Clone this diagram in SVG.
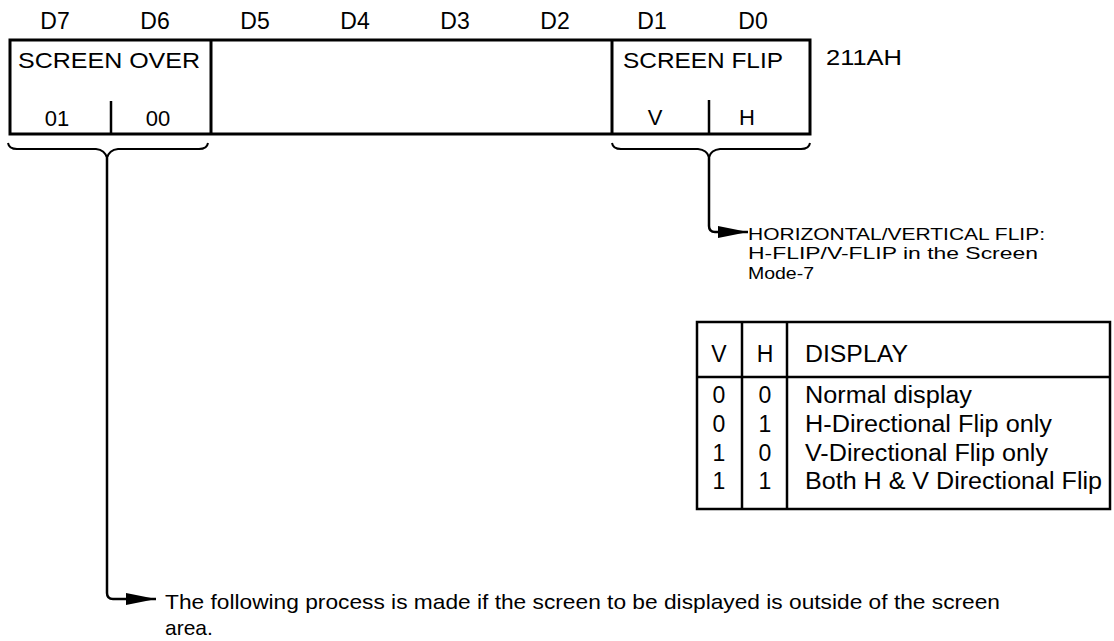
<svg xmlns="http://www.w3.org/2000/svg" width="1114" height="641" viewBox="0 0 1114 641">
<style>
  text { font-family: "Liberation Sans", Arial, sans-serif; fill: #000; }
  .bit { font-size: 23px; text-anchor: middle; }
  .lbl { font-size: 22px; }
  .mid { text-anchor: middle; }
  .ann { font-size: 17px; }
  .note { font-size: 21px; }
  .tbl { font-size: 23px; }
  .box { fill: #fff; stroke: #000; stroke-width: 3; }
  .div { stroke: #000; stroke-width: 3; fill: none; }
  .thin { stroke: #000; stroke-width: 2.5; fill: none; }
  .brace { stroke: #000; stroke-width: 2; fill: none; }
  .conn { stroke: #000; stroke-width: 2.5; fill: none; }
</style>
<defs>
  <marker id="arr" markerUnits="userSpaceOnUse" markerWidth="32" markerHeight="14" refX="30" refY="6" orient="auto">
    <path d="M0,0 L30,6 L0,12 Z" fill="#000"/>
  </marker>
</defs>

<g id="bit-labels">
  <text class="bit" x="55" y="29">D7</text>
  <text class="bit" x="155" y="29">D6</text>
  <text class="bit" x="255" y="29">D5</text>
  <text class="bit" x="355" y="29">D4</text>
  <text class="bit" x="455" y="29">D3</text>
  <text class="bit" x="555" y="29">D2</text>
  <text class="bit" x="652" y="29">D1</text>
  <text class="bit" x="753" y="29">D0</text>
</g>

<g id="register">
  <rect class="box" x="10" y="40" width="800" height="94"/>
  <line class="div" x1="211" y1="40" x2="211" y2="134"/>
  <line class="div" x1="612" y1="40" x2="612" y2="134"/>
</g>

<g id="screen-over">
  <text class="lbl" x="18" y="68" textLength="182" lengthAdjust="spacingAndGlyphs">SCREEN OVER</text>
  <line class="thin" x1="111" y1="101" x2="111" y2="134"/>
  <text class="lbl mid" x="57" y="126">01</text>
  <text class="lbl mid" x="158" y="126">00</text>
</g>

<g id="screen-flip">
  <text class="lbl" x="623" y="68" textLength="160" lengthAdjust="spacingAndGlyphs">SCREEN FLIP</text>
  <line class="thin" x1="709" y1="100" x2="709" y2="134"/>
  <text class="lbl mid" x="655" y="125">V</text>
  <text class="lbl mid" x="747" y="125">H</text>
</g>

<g id="address">
  <text class="lbl" x="826" y="65" textLength="76" lengthAdjust="spacingAndGlyphs">211AH</text>
</g>

<g id="braces">
  <path class="brace" d="M8,143 Q9,149 17,149 L96,149 Q105,150 107,158 Q109,150 118,149 L199,149 Q207,149 208,143"/>
  <path class="brace" d="M612,143 Q613,149 621,149 L698,149 Q707,150 709,157 Q711,150 720,149 L801,149 Q809,149 810,143"/>
</g>

<g id="connectors">
  <path class="conn" d="M709,156 L709,226 Q709,232 715,232 L748,232" marker-end="url(#arr)"/>
  <path class="conn" d="M107,158 L107,593 Q107,599 113,599 L156,599" marker-end="url(#arr)"/>
</g>

<g id="flip-note">
  <text class="ann" x="748" y="239.5" textLength="297" lengthAdjust="spacingAndGlyphs">HORIZONTAL/VERTICAL FLIP:</text>
  <text class="ann" x="748" y="259" textLength="290" lengthAdjust="spacingAndGlyphs">H-FLIP/V-FLIP in the Screen</text>
  <text class="ann" x="748" y="278.5" textLength="66" lengthAdjust="spacingAndGlyphs">Mode-7</text>
</g>

<g id="flip-table">
  <rect class="thin" x="697" y="322" width="413" height="187"/>
  <line class="thin" x1="697" y1="377" x2="1110" y2="377"/>
  <line class="thin" x1="742" y1="322" x2="742" y2="509"/>
  <line class="thin" x1="787" y1="322" x2="787" y2="509"/>
  <text class="tbl mid" x="719" y="362">V</text>
  <text class="tbl mid" x="765" y="362">H</text>
  <text class="tbl" x="805" y="362" textLength="103" lengthAdjust="spacingAndGlyphs">DISPLAY</text>
  <text class="tbl mid" x="719" y="403">0</text>
  <text class="tbl mid" x="765" y="403">0</text>
  <text class="tbl" x="805" y="403" textLength="167" lengthAdjust="spacingAndGlyphs">Normal display</text>
  <text class="tbl mid" x="719" y="432">0</text>
  <text class="tbl mid" x="765" y="432">1</text>
  <text class="tbl" x="805" y="432" textLength="247" lengthAdjust="spacingAndGlyphs">H-Directional Flip only</text>
  <text class="tbl mid" x="719" y="461">1</text>
  <text class="tbl mid" x="765" y="461">0</text>
  <text class="tbl" x="805" y="461" textLength="243" lengthAdjust="spacingAndGlyphs">V-Directional Flip only</text>
  <text class="tbl mid" x="719" y="489">1</text>
  <text class="tbl mid" x="765" y="489">1</text>
  <text class="tbl" x="805" y="489" textLength="297" lengthAdjust="spacingAndGlyphs">Both H &amp; V Directional Flip</text>
</g>

<g id="over-note">
  <text class="note" x="165" y="609" textLength="835" lengthAdjust="spacingAndGlyphs">The following process is made if the screen to be displayed is outside of the screen</text>
  <text class="note" x="165" y="635">area.</text>
</g>
</svg>
